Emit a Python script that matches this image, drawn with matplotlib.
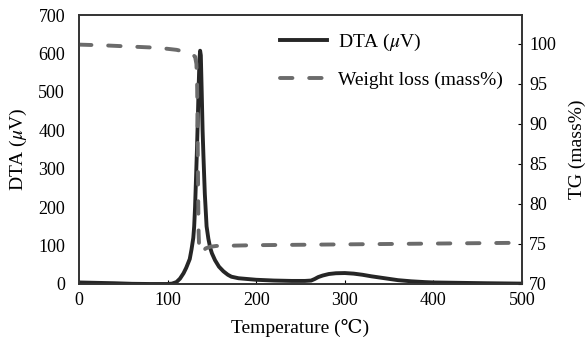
import matplotlib.pyplot as plt

plt.rcParams['font.family'] = ['Liberation Serif', 'DejaVu Serif']
plt.rcParams['mathtext.fontset'] = 'stix'

# DTA curve
dta_t = [0, 20, 40, 60, 80, 100, 105, 110, 114, 118, 121, 125, 127, 129, 130, 131, 132,
         133, 134, 135, 136, 136.7, 137.5, 138.5, 139.5, 140.5, 142, 144, 146, 148, 150,
         153.5, 158, 163, 168, 172, 180, 190, 200, 220, 240, 255, 262, 266, 270, 275,
         282, 290, 300, 310, 320, 330, 345, 360, 375, 390, 400, 430, 460, 500]
dta_v = [4, 3, 2, 0.5, 0, 0, 1, 5, 14, 28, 42, 65, 90, 120, 150, 200, 270,
         340, 420, 510, 585, 607, 595, 500, 400, 330, 235, 150, 118, 95, 80,
         62, 45, 33, 24, 19, 15, 13, 11, 9, 8, 8, 9, 13, 18, 22,
         26, 28, 28.5, 27, 24, 20, 15, 10, 7, 5, 4, 3, 2, 1]

# TG curve
tg_t = [0, 30, 60, 90, 110, 120, 127, 131, 132.5, 133.3, 133.8, 134.2, 134.6, 135,
        135.6, 136.5, 138, 140, 143, 148, 155, 200, 250, 300, 350, 400, 450, 500]
tg_v = [99.9, 99.8, 99.65, 99.5, 99.25, 99.0, 98.75, 98.4, 97.5, 95.0, 90.0, 85.0,
        80.0, 76.5, 74.6, 74.0, 73.85, 74.1, 74.45, 74.65, 74.75, 74.85, 74.9, 74.95,
        75.0, 75.05, 75.1, 75.15]

fig = plt.figure(figsize=(5.85, 3.44), dpi=100)
ax = fig.add_axes([79 / 585, 60 / 344, 443 / 585, 269 / 344])
ax2 = ax.twinx()

l1, = ax.plot(dta_t, dta_v, color='#262626', lw=2.8, label=r'DTA ($\mu$V)')
l2, = ax2.plot(tg_t, tg_v, color='#6b6b6b', lw=2.8, dashes=(3.2, 4.3),
               dash_capstyle='round', label='Weight loss (mass%)')

ax.set_xlim(0, 500)
ax.set_ylim(0, 700)
ax2.set_ylim(70, 103.6)
ax.set_xticks([0, 100, 200, 300, 400, 500])
ax.set_yticks(range(0, 701, 100))
ax2.set_yticks(range(70, 101, 5))

ax.tick_params(axis='x', direction='in', length=3, labelsize=13, pad=6)
ax.tick_params(axis='y', length=0, labelsize=13, pad=10)
ax2.tick_params(axis='y', direction='in', length=3, labelsize=13, pad=5)

ax.set_xlabel('Temperature (℃)', fontsize=14, labelpad=7)
ax.set_ylabel(r'DTA ($\mu$V)', fontsize=14, labelpad=7)
ax2.set_ylabel('TG (mass%)', fontsize=14, labelpad=9)

for a in (ax, ax2):
    for s in a.spines.values():
        s.set_color('#333333')
        s.set_linewidth(1.2)

leg = ax.legend(handles=[l1, l2], loc='upper left', frameon=False, fontsize=14,
                handlelength=2.4, handletextpad=0.6, labelspacing=0.95,
                borderpad=0, borderaxespad=0,
                bbox_to_anchor=(280 / 585, 1 - 32 / 344),
                bbox_transform=fig.transFigure)

fig.savefig('out.png', dpi=100)
